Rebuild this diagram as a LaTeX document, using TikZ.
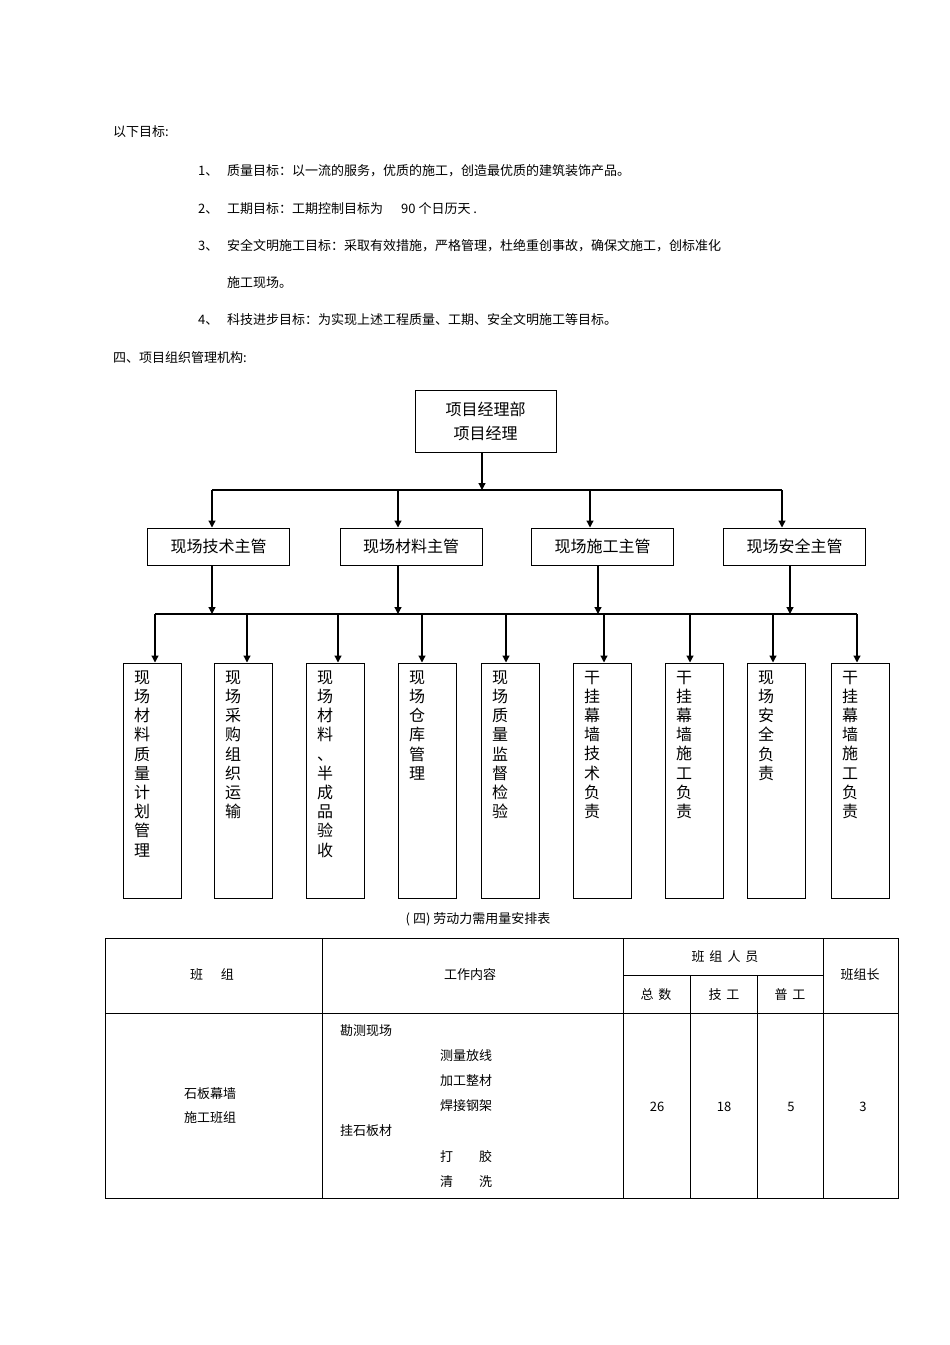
\documentclass[tikz,border=0pt]{standalone}
\usepackage{fontspec}
\setmainfont{Noto Sans CJK SC}
\usetikzlibrary{arrows.meta}
\begin{document}
\begin{tikzpicture}[x=1pt,y=-1pt,
 box/.style={draw,line width=1pt,inner sep=0pt},
 arr/.style={-{Triangle[length=7pt,width=7pt]},line width=1.2pt},
 ln/.style={line width=1.2pt},
 t/.style={font=\fontsize{13}{15}\selectfont,anchor=west,inner sep=0pt},
 c/.style={font=\fontsize{13}{15}\selectfont,inner sep=0pt},
 vt/.style={font=\fontsize{16}{19.2}\selectfont,align=center,inner sep=0pt,anchor=north}]
\useasboundingbox (0,0) rectangle (950,1345);
% intro text
\node[t] (l0) at (113,132) {以下目标:};
\node[t] (n1) at (198,171) {1、};\node[t] (t1) at (227,171) {质量目标：以一流的服务，优质的施工，创造最优质的建筑装饰产品。};
\node[t] (n2) at (198,209) {2、};\node[t] (t2) at (227,209) {工期目标：工期控制目标为\hspace{18pt}90 个日历天 .};
\node[t] (n3) at (198,246) {3、};\node[t] (t3) at (227,246) {安全文明施工目标：采取有效措施，严格管理，杜绝重创事故，确保文施工，创标准化};
\node[t] (t3b) at (227,283) {施工现场。};
\node[t] (n4) at (198,320) {4、};\node[t] (t4) at (227,320) {科技进步目标：为实现上述工程质量、工期、安全文明施工等目标。};
\node[t] (l5) at (113,358) {四、项目组织管理机构:};
% chart
\node[box,minimum width=141pt,minimum height=62pt,align=center,font=\fontsize{16}{24}\selectfont] (top) at (485.5,421) {项目经理部\\项目经理};
\coordinate (h1) at (482,490);
\draw[arr] (top.south -| h1) -- (h1);
\foreach \n/\x/\ax/\s in {m1/218.5/212/现场技术主管,m2/411/398/现场材料主管,m3/602.5/590/现场施工主管,m4/794.5/782/现场安全主管}{
 \node[box,minimum width=142pt,minimum height=37pt,font=\fontsize{16}{19}\selectfont] (\n) at (\x,546.5) {\s};
 \coordinate (\n a) at (\ax,490);
}
\draw[ln] (m1a) -- (m4a);
\foreach \n in {m1,m2,m3,m4}{\draw[arr] (\n a) -- (\n a |- \n.north);}
\coordinate (h2) at (212,614);
\foreach \n/\ax in {m1/212,m2/398,m3/598,m4/790}{\draw[arr] (\ax,565) -- (\ax,614);}
\foreach \i/\x/\ax/\s in {1/152/155/现\\场\\材\\料\\质\\量\\计\\划\\管\\理,
 2/243/247/现\\场\\采\\购\\组\\织\\运\\输,
 3/335/338/现\\场\\材\\料\\、\\半\\成\\品\\验\\收,
 4/427/422/现\\场\\仓\\库\\管\\理,
 5/510/506/现\\场\\质\\量\\监\\督\\检\\验,
 6/602/604/干\\挂\\幕\\墙\\技\\术\\负\\责,
 7/694/690/干\\挂\\幕\\墙\\施\\工\\负\\责,
 8/776/773/现\\场\\安\\全\\负\\责,
 9/860/857/干\\挂\\幕\\墙\\施\\工\\负\\责}{
 \node[box,minimum width=58pt,minimum height=235pt] (b\i) at (\x,780.5) {};
 \node[vt] (bt\i) at ([xshift=-10pt,yshift=-8pt]b\i.north) {\s};
 \coordinate (c\i) at (\ax,614);
 \draw[arr] (c\i) -- (c\i |- b\i.north);
}
\draw[ln] (c1) -- (c9);
% table
\node[c] (cap) at (478,919) {( 四) 劳动力需用量安排表};
\draw[line width=0.8pt] (105,938) rectangle (898,1198);
\draw[line width=0.8pt] (105,1013) -- (898,1013) (623,975) -- (823,975)
 (322,938) -- (322,1198) (623,938) -- (623,1198) (823,938) -- (823,1198)
 (690,975) -- (690,1198) (757,975) -- (757,1198);
\node[c] (h_a) at (212,975) {班\hspace{18pt}组};
\node[c] (h_b) at (470,975) {工作内容};
\node[c] (h_c) at (725,957) {班\hspace{5pt}组\hspace{5pt}人\hspace{5pt}员};
\node[c] (h_d) at (860,975) {班组长};
\node[c] (h_e) at (656,995) {总\hspace{5pt}数};
\node[c] (h_f) at (724,995) {技\hspace{5pt}工};
\node[c] (h_g) at (790,995) {普\hspace{5pt}工};
\node[c,align=center,font=\fontsize{13}{24}\selectfont] (g) at (210,1106) {石板幕墙\\施工班组};
\node[t] (w1) at (340,1031) {勘测现场};
\node[t] (w2) at (440,1056) {测量放线};
\node[t] (w3) at (440,1081) {加工整材};
\node[t] (w4) at (440,1106) {焊接钢架};
\node[t] (w5) at (340,1131) {挂石板材};
\node[t] (w6) at (440,1157) {打\hspace{26pt}胶};
\node[t] (w7) at (440,1182) {清\hspace{26pt}洗};
\node[c] (v1) at (657,1107) {26};
\node[c] (v2) at (724,1107) {18};
\node[c] (v3) at (791,1107) {5};
\node[c] (v4) at (863,1107) {3};
\end{tikzpicture}
\end{document}
